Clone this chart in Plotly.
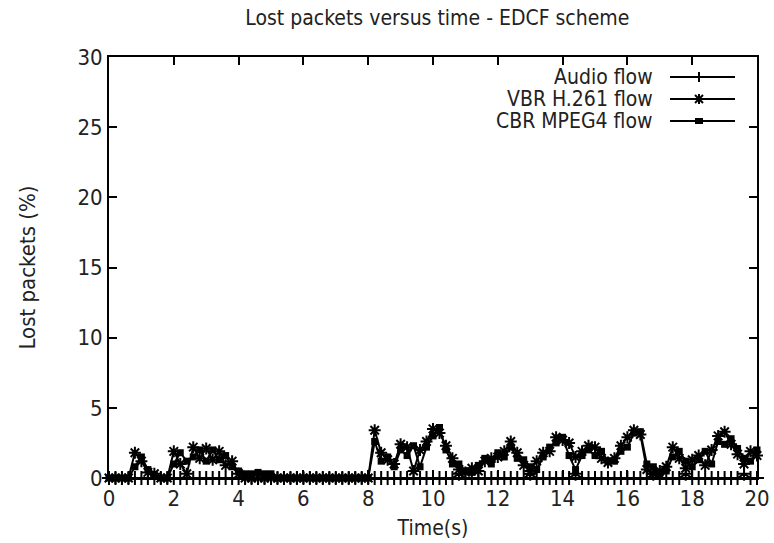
import plotly.graph_objects as go

# Sampling instants (s), one sample every 0.2 s
time_s = [round(i * 0.2, 1) for i in range(101)]

# Lost packets (%) per flow
audio_loss = [
    0, 0, 0, 0, 0, 0, 0, 0, 0, 0,
    0, 0, 0, 0, 0, 0, 0, 0, 0, 0,
    0, 0, 0, 0, 0, 0, 0, 0, 0, 0,
    0, 0, 0, 0, 0, 0, 0, 0, 0, 0,
    0, 0, 0, 0, 0, 0, 0, 0, 0, 0,
    0, 0, 0, 0, 0.3, 0, 0, 0, 0, 0,
    0, 0, 0, 0, 0, 0.3, 0, 0, 0, 0,
    0, 0, 0.3, 0, 0, 0, 0, 0, 0, 0,
    0, 0, 0, 0, 0.3, 0, 0, 0, 0, 0.3,
    0, 0, 0, 0, 0, 0, 0, 0, 0.3, 0,
    0,
]

vbr_loss = [
    0, 0, 0, 0, 1.8, 1.2, 0.4, 0.3, 0, 0,
    1.9, 1.0, 0.3, 2.2, 1.4, 2.1, 1.3, 1.9, 0.9, 1.2,
    0.3, 0, 0, 0, 0, 0, 0, 0, 0, 0,
    0, 0, 0, 0, 0, 0, 0, 0, 0, 0,
    0, 3.4, 1.8, 1.3, 1.0, 2.4, 2.2, 0.5, 2.0, 2.6,
    3.5, 3.2, 2.3, 1.4, 0.6, 0.4, 0.7, 0.5, 1.2, 1.4,
    1.5, 1.9, 2.6, 1.8, 0.9, 0.5, 1.2, 1.8, 1.9, 2.9,
    2.7, 2.5, 1.5, 1.9, 2.3, 2.2, 1.4, 1.1, 1.4, 2.3,
    2.9, 3.4, 3.1, 0.6, 0.3, 0.5, 0.8, 2.2, 1.4, 0.7,
    1.3, 1.6, 0.9, 2.0, 3.0, 3.3, 2.4, 1.7, 1.0, 1.9,
    1.6,
]

cbr_loss = [
    0, 0, 0, 0, 0.8, 1.5, 0.6, 0.2, 0, 0,
    1.0, 1.8, 1.2, 1.5, 2.0, 1.2, 2.0, 1.3, 1.6, 0.8,
    0.5, 0.3, 0.3, 0.4, 0.3, 0.3, 0, 0, 0, 0,
    0, 0, 0, 0, 0, 0, 0, 0, 0, 0,
    0, 2.6, 1.2, 1.5, 0.8, 2.0, 1.6, 2.3, 0.8, 2.2,
    3.0, 3.6, 2.0, 1.0, 1.0, 0.5, 0.4, 0.9, 1.4, 1.0,
    1.8, 1.5, 2.2, 1.4, 1.3, 0.8, 0.6, 1.5, 2.2, 2.5,
    2.9, 1.6, 0.6, 1.6, 2.0, 1.6, 1.9, 1.2, 1.2, 1.9,
    2.2, 3.2, 3.3, 1.0, 0.8, 0.3, 0.5, 1.5, 1.9, 1.2,
    0.8, 1.3, 1.9, 1.0, 2.6, 2.4, 2.8, 2.1, 1.4, 1.2,
    2.0,
]

series_names = ["Audio flow", "VBR H.261 flow", "CBR MPEG4 flow"]
x_ticks = list(range(0, 21, 2))
y_ticks = list(range(0, 31, 5))

FONT = "DejaVu Sans Condensed, Liberation Sans Narrow, Liberation Sans, sans-serif"
W, H = 774, 543
L, R, T, B = 109, 17, 57, 65
PW, PH = W - L - R, H - T - B

fig = go.Figure()
styles = [
    dict(symbol="cross-thin-open", size=10, line=dict(width=2, color="black")),
    dict(symbol="asterisk-open", size=10, line=dict(width=2, color="black")),
    dict(symbol="square", size=7, color="black", line=dict(width=0)),
]
for name, vals, mk in zip(series_names, [audio_loss, vbr_loss, cbr_loss], styles):
    fig.add_trace(go.Scatter(
        x=time_s, y=vals, name=name, mode="lines+markers",
        line=dict(color="black", width=2),
        marker=mk, cliponaxis=False, showlegend=False,
    ))


def px_x(p):
    return (p - L) / PW


def px_y(p):
    return (H - B - p) / PH


# gnuplot-style key: right-justified text followed by a line sample
shapes, annotations = [], []
rows = [77, 99, 121]
for i, (name, py) in enumerate(zip(series_names, rows)):
    annotations.append(dict(
        x=px_x(655), y=px_y(py), xref="paper", yref="paper",
        text=name, showarrow=False, xanchor="right", yanchor="middle",
        font=dict(family=FONT, size=21, color="#222222"),
    ))
    shapes.append(dict(type="line", xref="paper", yref="paper",
                       x0=px_x(670), x1=px_x(735), y0=px_y(py), y1=px_y(py),
                       line=dict(color="black", width=2)))
    cx = 699
    if i == 0:
        shapes.append(dict(type="line", xref="paper", yref="paper",
                           x0=px_x(cx), x1=px_x(cx), y0=px_y(py - 5), y1=px_y(py + 5),
                           line=dict(color="black", width=2)))
    elif i == 1:
        for dx, dy in [(0, 5), (4, 4), (-4, 4)]:
            shapes.append(dict(type="line", xref="paper", yref="paper",
                               x0=px_x(cx - dx), x1=px_x(cx + dx),
                               y0=px_y(py - dy), y1=px_y(py + dy),
                               line=dict(color="black", width=2)))
    else:
        shapes.append(dict(type="rect", xref="paper", yref="paper",
                           x0=px_x(cx - 4), x1=px_x(cx + 4),
                           y0=px_y(py - 3), y1=px_y(py + 3),
                           fillcolor="black", line=dict(width=0)))

fig.update_layout(
    width=W, height=H,
    margin=dict(l=L, r=R, t=T, b=B, autoexpand=False),
    paper_bgcolor="white", plot_bgcolor="white",
    font=dict(family=FONT, color="#222222", size=22),
    title=dict(text="Lost packets versus time - EDCF scheme",
               x=0.565, xanchor="center", y=0.968, yanchor="middle",
               font=dict(family=FONT, size=21, color="#222222")),
    shapes=shapes, annotations=annotations,
    showlegend=False,
)
fig.update_xaxes(
    range=[0, 20], tickvals=x_ticks, ticktext=[str(v) for v in x_ticks],
    automargin=False, ticklabeloverflow="allow",
    showgrid=False, zeroline=False, showline=True, linecolor="black", linewidth=2,
    mirror="ticks", ticks="inside", ticklen=8, tickwidth=1.5, tickcolor="black",
    title=dict(text="Time(s)", standoff=10, font=dict(family=FONT, size=21)),
    tickfont=dict(family=FONT, size=22),
)
fig.update_yaxes(
    range=[0, 30], tickvals=y_ticks, ticktext=[str(v) for v in y_ticks],
    automargin=False, ticklabeloverflow="allow",
    showgrid=False, zeroline=False, showline=True, linecolor="black", linewidth=2,
    mirror="ticks", ticks="inside", ticklen=8, tickwidth=1.5, tickcolor="black",
    title=dict(text="Lost packets (%)", standoff=36, font=dict(family=FONT, size=22)),
    tickfont=dict(family=FONT, size=22),
)

fig.write_html("out.html")
